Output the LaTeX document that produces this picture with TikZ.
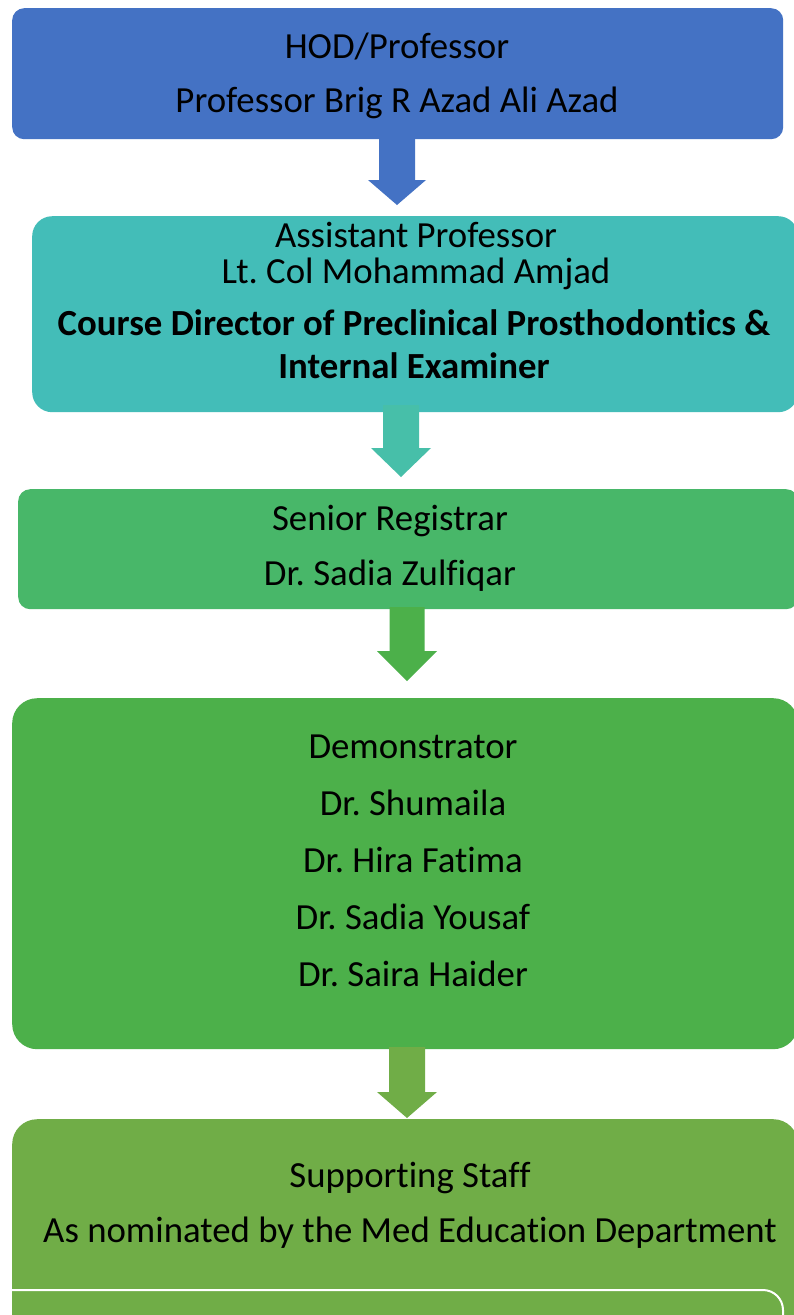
\documentclass[tikz,border=0pt]{standalone}
\usepackage{fontspec}
\setmainfont{Carlito}[RawFeature=-liga]
\frenchspacing
\begin{document}
\begin{tikzpicture}[x=1pt,y=1pt,
  box/.style={draw=none, rounded corners=#1, inner sep=0pt, anchor=north west},
  box/.default=12pt,
  txt/.style={anchor=base, inner sep=0pt, font=\fontsize{36.8}{40}\selectfont, text=black},
  btxt/.style={txt, font=\fontsize{36.8}{40}\selectfont\bfseries}]
\definecolor{cA}{HTML}{4472C4}
\definecolor{cB}{HTML}{43BDB8}
\definecolor{cBa}{HTML}{47BFA9}
\definecolor{cC}{HTML}{48B769}
\definecolor{cD}{HTML}{4CB04A}
\definecolor{cE}{HTML}{70AD47}
\useasboundingbox (0,0) rectangle (793,-1315);
\fill[white] (0,0) rectangle (793,-1315);
% block arrow macro: #1 colour, #2 centre x, #3 top y, #4 neck y, #5 tip y, #6 half shaft, #7 half head
\newcommand\blockarrow[7]{%
  \fill[#1] (#2-#6,#3) -- (#2+#6,#3) -- (#2+#6,#4) -- (#2+#7,#4) -- (#2,#5) -- (#2-#7,#4) -- (#2-#6,#4) -- cycle;}
% boxes
\node[box=12pt, fill=cA, minimum width=771pt, minimum height=131pt] (b1) at (12,-8) {};
\node[box=20pt, fill=cB, minimum width=766pt, minimum height=196pt] (b2) at (32,-216) {};
\node[box=12pt, fill=cC, minimum width=780pt, minimum height=120pt] (b3) at (18,-489) {};
\node[box=25pt, fill=cD, minimum width=786pt, minimum height=351pt] (b4) at (12,-698) {};
\node[box=25pt, fill=cE, minimum width=786pt, minimum height=240pt] (b5) at (12,-1119) {};
% arrows between boxes
\blockarrow{cA}{397}{-139}{-180}{-205}{18}{29}
\blockarrow{cBa}{401}{-405}{-448}{-477}{18}{30}
\blockarrow{cD}{407}{-607}{-651}{-681}{17.5}{30}
\blockarrow{cE}{407}{-1047}{-1092}{-1118}{18}{30}
% white outline at bottom
\draw[white, line width=2pt] (12,-1290) -- (763,-1290) arc[start angle=90, end angle=0, radius=20] -- (783,-1330);
% texts
\node[txt] (t1a) at (397,-58) {HOD/Professor};
\node[txt] (t1b) at (397,-112) {Professor Brig R Azad Ali Azad};
\node[txt] (t2a) at (416,-247) {Assistant Professor};
\node[txt] (t2b) at (416,-283) {Lt. Col Mohammad Amjad};
\node[btxt] (t2c) at (414,-335) {Course Director of Preclinical Prosthodontics \&};
\node[btxt] (t2d) at (414,-378) {Internal Examiner};
\node[txt] (t3a) at (390,-530) {Senior Registrar};
\node[txt] (t3b) at (390,-585) {Dr. Sadia Zulfiqar};
\node[txt] (t4a) at (413,-758) {Demonstrator};
\node[txt] (t4b) at (413,-815) {Dr. Shumaila};
\node[txt] (t4c) at (413,-872) {Dr. Hira Fatima};
\node[txt] (t4d) at (413,-929) {Dr. Sadia Yousaf};
\node[txt] (t4e) at (413,-986) {Dr. Saira Haider};
\node[txt] (t5a) at (410,-1187) {Supporting Staff};
\node[txt] (t5b) at (410,-1242) {As nominated by the Med Education Department};
\end{tikzpicture}
\end{document}
